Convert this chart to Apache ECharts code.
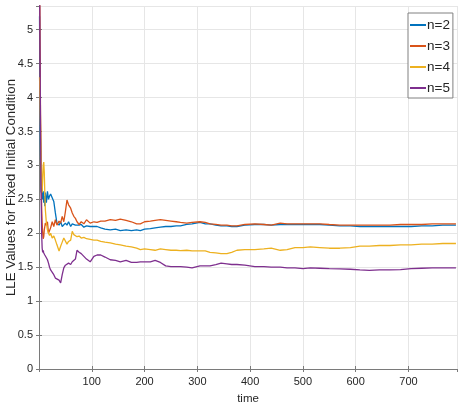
<!DOCTYPE html>
<html>
<head>
<meta charset="utf-8">
<script src="https://cdn.jsdelivr.net/npm/echarts@6/dist/echarts.min.js"></script>
<style>
html,body{margin:0;padding:0;background:#fff;}
#c{width:458px;height:410px;}
</style>
</head>
<body>
<div id="c"></div>
<script>
const seriesNames = ['n=2', 'n=3', 'n=4', 'n=5'];
const xTicks = [100, 200, 300, 400, 500, 600, 700];
const yTicks = [0, 0.5, 1, 1.5, 2, 2.5, 3, 3.5, 4, 4.5, 5];
const time = [1,2,3,4,5,6,7,8,9,10,11,12,14,16,18,20,22,25,28,31,34,38,41,44,47,50,53,56,60,63,66,69,72,76,80,85,90,97,104,110,117,125,135,145,154,165,175,185,192,200,211,220,230,240,250,260,268,280,290,305,315,324,335,345,356,365,375,390,409,426,440,457,470,485,500,514,532,550,570,590,608,626,645,665,685,705,725,745,765,790];
const n2 = [5.2,3.9,3.1,2.6,2.75,2.68,2.5,2.62,2.45,2.55,2.4,2.6,2.45,2.62,2.5,2.55,2.58,2.6,2.47,2.3,2.15,2.12,2.17,2.1,2.12,2.15,2.12,2.17,2.1,2.14,2.16,2.12,2.1,2.12,2.13,2.09,2.11,2.1,2.1,2.1,2.08,2.06,2.05,2.06,2.04,2.05,2.04,2.05,2.04,2.06,2.07,2.08,2.09,2.1,2.1,2.11,2.11,2.13,2.14,2.16,2.14,2.14,2.12,2.11,2.11,2.1,2.1,2.12,2.13,2.13,2.12,2.13,2.13,2.13,2.13,2.13,2.13,2.12,2.11,2.11,2.1,2.1,2.1,2.1,2.1,2.1,2.11,2.11,2.12,2.12];
const n3 = [6.5,4.8,3.6,2.9,2.4,2.15,2.0,1.92,1.95,2.05,2.1,2.15,2.12,2.17,2.0,2.02,2.08,2.17,2.1,2.2,2.12,2.18,2.15,2.25,2.17,2.32,2.49,2.42,2.37,2.3,2.25,2.22,2.17,2.13,2.17,2.14,2.2,2.15,2.17,2.16,2.18,2.18,2.2,2.19,2.21,2.19,2.17,2.14,2.14,2.17,2.18,2.19,2.2,2.19,2.18,2.17,2.16,2.15,2.16,2.17,2.16,2.14,2.13,2.12,2.12,2.11,2.11,2.13,2.14,2.13,2.12,2.15,2.14,2.14,2.14,2.14,2.14,2.13,2.12,2.12,2.12,2.12,2.12,2.12,2.13,2.13,2.13,2.14,2.14,2.14];
const n4 = [4.3,4.0,3.6,3.2,2.8,2.6,2.8,3.0,3.05,2.9,2.6,2.35,2.15,2.05,2.0,1.97,2.0,1.93,1.96,1.9,1.83,1.74,1.81,1.87,1.93,1.95,1.84,1.88,1.9,2.03,1.98,1.97,1.95,1.96,1.93,1.94,1.92,1.91,1.9,1.9,1.88,1.87,1.86,1.84,1.83,1.81,1.8,1.78,1.76,1.77,1.76,1.75,1.77,1.76,1.75,1.75,1.745,1.75,1.74,1.74,1.74,1.72,1.71,1.7,1.7,1.72,1.75,1.76,1.76,1.77,1.78,1.75,1.76,1.79,1.79,1.8,1.79,1.78,1.78,1.79,1.81,1.81,1.82,1.82,1.83,1.83,1.84,1.84,1.85,1.85];
const n5 = [5.8,4.6,3.5,2.6,2.0,1.78,1.72,1.75,1.71,1.7,1.68,1.66,1.64,1.61,1.56,1.5,1.46,1.44,1.39,1.34,1.36,1.31,1.27,1.39,1.49,1.53,1.51,1.56,1.54,1.58,1.56,1.62,1.75,1.72,1.7,1.66,1.62,1.58,1.66,1.68,1.68,1.65,1.61,1.6,1.58,1.6,1.57,1.57,1.58,1.58,1.58,1.6,1.57,1.52,1.51,1.51,1.51,1.5,1.49,1.52,1.52,1.52,1.54,1.56,1.55,1.54,1.54,1.53,1.51,1.51,1.5,1.5,1.49,1.49,1.48,1.49,1.485,1.48,1.475,1.47,1.46,1.455,1.46,1.46,1.465,1.48,1.485,1.49,1.49,1.49];

const values = [n2, n3, n4, n5];
const colors = ['#0072BD', '#D95319', '#EDB120', '#7E2F8E'];
const X_MIN = 0, X_MAX = 792, Y_MIN = 0, Y_MAX = 5.35;
const font = 'Liberation Sans, Arial, sans-serif';

const chart = echarts.init(document.getElementById('c'), null, {renderer: 'canvas'});

const commonAxisLine = {show: true, lineStyle: {color: '#7a7a7a', width: 1}};
const tickStyle = {show: true, inside: true, length: 3, lineStyle: {color: '#7a7a7a'}};

const option = {
  animation: false,
  backgroundColor: '#ffffff',
  color: colors,
  grid: {left: 39, right: 1, top: 6, bottom: 41, show: false, containLabel: false, outerBoundsMode: 'none'},
  legend: {
    data: seriesNames,
    orient: 'vertical',
    left: 408,
    top: 13,
    padding: [5, 3, 3, 2],
    itemGap: 7,
    itemWidth: 16,
    itemHeight: 2,
    icon: 'rect',
    backgroundColor: '#ffffff',
    borderColor: '#808080',
    borderWidth: 1,
    borderRadius: 0,
    textStyle: {fontFamily: font, fontSize: 13.5, color: '#262626', padding: [0, 0, 0, -4], lineHeight: 14}
  },
  xAxis: [{
    type: 'value', min: X_MIN, max: X_MAX, interval: 100,
    position: 'bottom',
    name: 'time', nameLocation: 'middle', nameGap: 24, nameMoveOverlap: false,
    nameTextStyle: {fontFamily: font, fontSize: 11.5, color: '#262626'},
    axisLine: commonAxisLine, axisTick: tickStyle,
    axisLabel: {fontFamily: font, fontSize: 11, color: '#262626', margin: 7, showMinLabel: false, showMaxLabel: false,
      formatter: v => xTicks.includes(v) ? String(v) : ''},
    splitLine: {show: true, lineStyle: {color: '#e6e6e6', width: 1}}
  }, {
    type: 'value', min: X_MIN, max: X_MAX, interval: 100,
    position: 'top',
    axisLine: commonAxisLine, axisTick: tickStyle,
    axisLabel: {show: false}, splitLine: {show: false}
  }],
  yAxis: [{
    type: 'value', min: Y_MIN, max: Y_MAX, interval: 0.5,
    position: 'left',
    name: 'LLE Values for Fixed Initial Condition', nameLocation: 'middle', nameGap: 21, nameMoveOverlap: false,
    nameTextStyle: {fontFamily: font, fontSize: 13.3, color: '#262626'},
    axisLine: commonAxisLine, axisTick: tickStyle,
    axisLabel: {fontFamily: font, fontSize: 11, color: '#262626', margin: 6, showMaxLabel: false,
      formatter: v => yTicks.includes(v) ? String(v) : ''},
    splitLine: {show: true, lineStyle: {color: '#e6e6e6', width: 1}}
  }, {
    type: 'value', min: Y_MIN, max: Y_MAX, interval: 0.5,
    position: 'right',
    axisLine: commonAxisLine, axisTick: tickStyle,
    axisLabel: {show: false}, splitLine: {show: false}
  }],
  series: seriesNames.map((name, i) => ({
    name: name,
    type: 'line',
    xAxisIndex: 0, yAxisIndex: 0,
    showSymbol: false,
    symbol: 'none',
    clip: true,
    lineStyle: {width: 1.3, color: colors[i]},
    data: time.map((t, k) => [t, values[i][k]])
  }))
};
chart.setOption(option);
</script>
</body>
</html>
